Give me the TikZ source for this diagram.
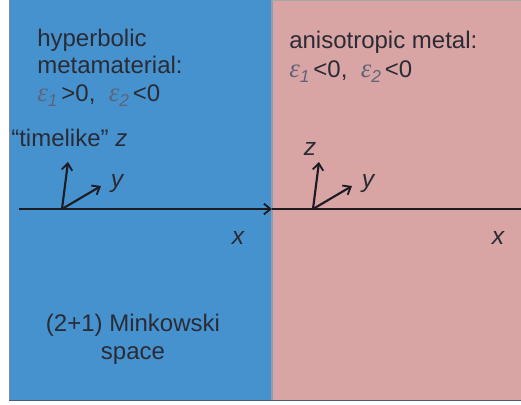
\documentclass[tikz,border=0pt]{standalone}
\usepackage{fontspec}
\setmainfont{Liberation Sans}
\newfontfamily\epsfont{Liberation Serif}
\usetikzlibrary{arrows.meta}
\definecolor{hypblue}{HTML}{4592CF}
\definecolor{metpink}{HTML}{D9A4A4}
\definecolor{txtdark}{HTML}{2B2B35}
\definecolor{epsgray}{HTML}{5E6478}
\definecolor{edgeline}{HTML}{4A5A78}
\definecolor{axiscol}{HTML}{1C1C22}
\newcommand{\epsi}[1]{{\color{epsgray}\epsfont\itshape\fontsize{20}{22}\selectfont ε\raisebox{-0.45ex}{\rmfamily\fontsize{13}{14}\selectfont\textit{#1}}}}
\tikzset{
  lbl/.style={text=txtdark, font=\fontsize{18}{20.6}\selectfont, inner sep=0pt},
  axlbl/.style={text=txtdark, font=\fontsize{18.5}{20}\selectfont\itshape, inner sep=0pt},
  axisline/.style={draw=axiscol, line width=1.6pt},
  axisarrow/.style={axisline, -{Straight Barb[length=5pt,width=8pt,line width=1.4pt]}},
}
\begin{document}
\begin{tikzpicture}[x=0.75pt,y=-0.75pt]
\useasboundingbox (0,0) rectangle (521,404);
\fill[white] (0,0) rectangle (521,404);
% regions
\fill[hypblue] (9,0) rectangle (272,401);
\fill[metpink] (272,0) rectangle (521,401);
\draw[edgeline!70, line width=0.8pt] (9.4,0) -- (9.4,401);
\draw[edgeline!60, line width=0.8pt] (272,0) -- (272,401);
\draw[gray!70, line width=0.8pt] (272,0.5) -- (521,0.5);
\draw[edgeline, line width=1.2pt] (9,400.5) -- (521,400.5);
% left texts
\node[lbl, anchor=base west] (h1) at (37,46) {hyperbolic};
\node[lbl, anchor=base west] (h2) at (37,73) {metamaterial:};
\node[lbl, anchor=base west] (h3) at (37,101) {\epsi{1}\,>0,\ \ \epsi{2}\,<0};
% right texts
\node[lbl, anchor=base west] (m1) at (289,48) {anisotropic metal:};
\node[lbl, anchor=base west] (m2) at (289,77) {\epsi{1}\,<0,\ \ \epsi{2}\,<0};
% axes
\coordinate (xl0) at (19,209);
\coordinate (xm) at (272,209);
\coordinate (xr1) at (521,209);
\coordinate (oL) at (62,209);
\coordinate (zL) at (68,162);
\coordinate (yL) at (101,186);
\coordinate (oR) at (313,209);
\coordinate (zR) at (319,162);
\coordinate (yR) at (352,186);
\draw[axisarrow] (xl0) -- (xm);
\draw[axisline] (xm) -- (xr1);
\draw[axisarrow] (oL) -- (zL);
\draw[axisarrow] (oL) -- (yL);
\draw[axisarrow] (oR) -- (zR);
\draw[axisarrow] (oR) -- (yR);
% axis labels
\node[lbl, anchor=base west] (tl) at (11,146) {“timelike” \textit{z}};
\node[axlbl] (yLl) at (117,184) {y};
\node[axlbl] (zRl) at (310,149) {z};
\node[axlbl] (yRl) at (368,184) {y};
\node[axlbl] (xLl) at (238,238) {x};
\node[axlbl] (xRl) at (498,238) {x};
% bottom text
\node[lbl, align=center, font=\fontsize{18}{21}\selectfont] (mk) at (133,339) {(2+1) Minkowski\\space};
\end{tikzpicture}
\end{document}
